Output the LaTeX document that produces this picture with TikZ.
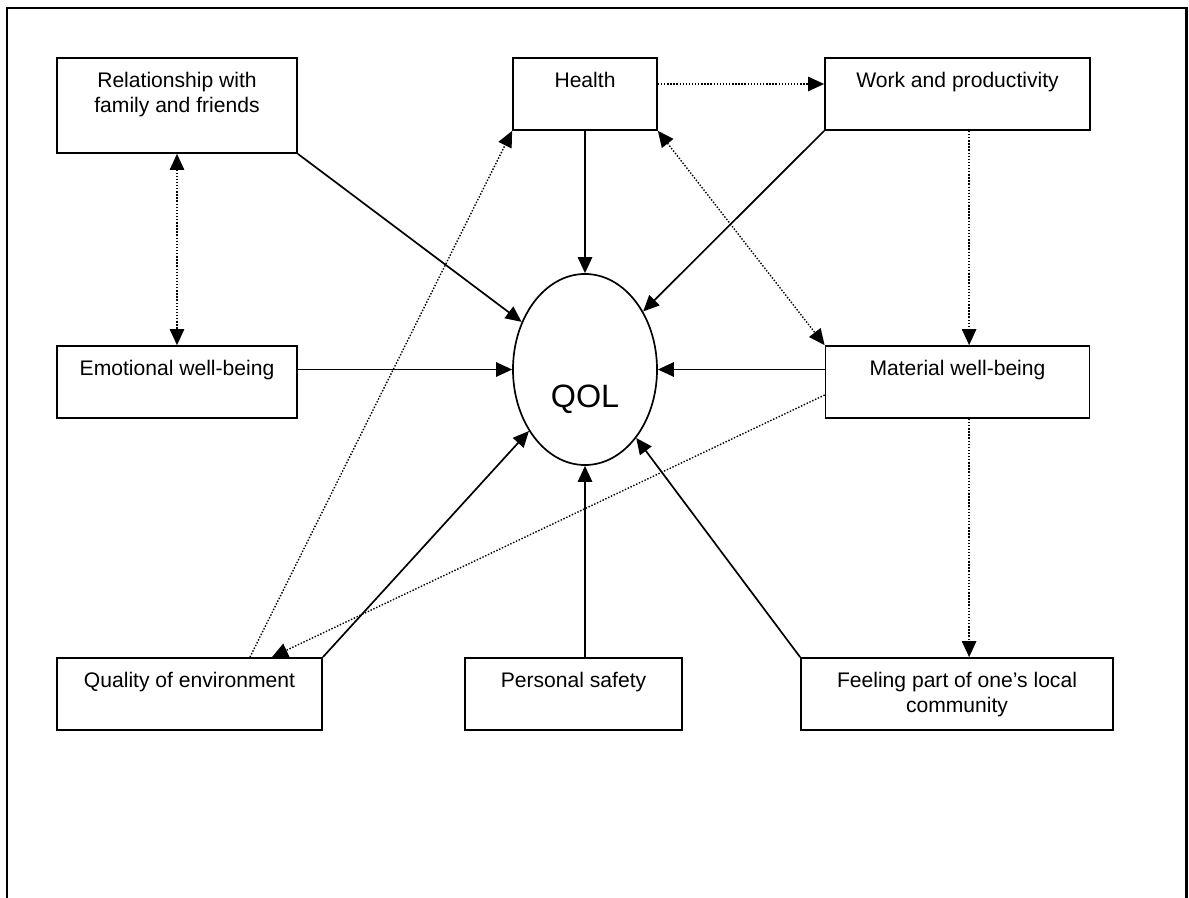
\documentclass[tikz,border=0pt]{standalone}
\usepackage{fontspec}
\setmainfont{Liberation Sans}
\usetikzlibrary{positioning, arrows.meta, shapes.geometric}

\begin{document}
\begin{tikzpicture}[x=0.025cm, y=-0.025cm,
    >={Triangle[length=0.4cm, width=0.36cm]},
    box/.style={draw, line width=1.2pt, inner sep=0pt, minimum height=1.8cm},
    lbl/.style={font=\fontsize{15}{17.8}\selectfont, align=center, inner sep=0pt},
    solidarr/.style={->, line width=1.2pt},
    dotline/.style={line width=1pt, dash pattern=on 1pt off 1.2pt}]
    \useasboundingbox (0,0) rectangle (1189,898);
    % frame, open at the bottom
    \draw[line width=1.8pt] (7,898) |- (1186.5,8) -- (1186.5,898);

    % factors
    \node[box, minimum width=6cm, minimum height=2.375cm] (rel) at (177,105.5) {};
    \node[box, minimum width=3.6cm] (health) at (585,94) {};
    \node[box, minimum width=6.625cm] (work) at (957.5,94) {};
    \node[box, minimum width=6cm] (emo) at (177,382) {};
    \node[box, minimum width=6.6cm] (mat) at (957.5,382) {};
    \node[box, minimum width=6.625cm] (qual) at (189.5,694) {};
    \node[box, minimum width=5.425cm] (pers) at (573.5,694) {};
    \node[box, minimum width=7.8cm] (feel) at (957,694) {};
    \node[draw, ellipse, line width=1.2pt, inner sep=0pt, minimum width=3.6cm, minimum height=4.775cm] (qol) at (585,369.5) {};

    \node[lbl, below=0.375cm of rel.north] (reltxt) {Relationship with\\family and friends};
    \node[lbl, below=0.375cm of health.north] (healthtxt) {Health};
    \node[lbl, below=0.375cm of work.north] (worktxt) {Work and productivity};
    \node[lbl, below=0.375cm of emo.north] (emotxt) {Emotional well-being};
    \node[lbl, below=0.375cm of mat.north] (mattxt) {Material well-being};
    \node[lbl, below=0.375cm of qual.north] (qualtxt) {Quality of environment};
    \node[lbl, below=0.375cm of pers.north] (perstxt) {Personal safety};
    \node[lbl, below=0.375cm of feel.north] (feeltxt) {Feeling part of one’s local\\community};
    \node[font=\fontsize{23}{27}\selectfont, inner sep=0pt] (qoltxt) at ([yshift=-0.75cm]qol.center) {QOL};

    % direct effects on QOL
    \draw[solidarr] (rel.south east) -- (qol);
    \draw[solidarr] (health) -- (qol);
    \draw[solidarr] (work.south west) -- (qol);
    \draw[solidarr] (emo.east |- qol) -- (qol);
    \draw[solidarr] (mat.west |- qol) -- (qol);
    \draw[solidarr] (qual.north east) -- (qol);
    \draw[solidarr] (qol |- pers.north) -- (qol);
    \draw[solidarr] (feel.north west) -- (qol);

    % links between factors
    \draw[dotline, <->] (rel) -- (emo);
    \draw[dotline, ->] ([yshift=0.25cm]health.east) -- ([yshift=0.25cm]work.west);
    \draw[dotline, ->] ([xshift=1.51cm]qual.north) -- (health.south west);
    \draw[dotline, <->] (health.south east) -- (mat.north west);
    \draw[dotline, ->] ([xshift=0.29cm]work.south) -- ([xshift=0.29cm]work.south |- mat.north);
    \draw[dotline, ->] ([yshift=-0.325cm]mat.west) -- ([xshift=2.06cm]qual.north);
    \draw[dotline, ->] ([xshift=0.29cm]mat.south) -- ([xshift=0.29cm]mat.south |- feel.north);
\end{tikzpicture}
\end{document}
